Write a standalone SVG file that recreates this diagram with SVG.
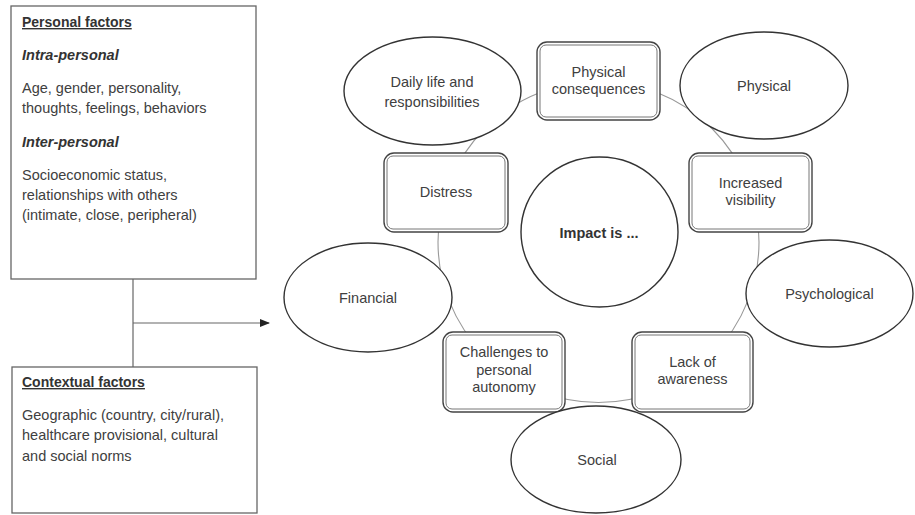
<svg xmlns="http://www.w3.org/2000/svg" width="915" height="515" viewBox="0 0 915 515">
<defs>
<style>
text{font-family:"Liberation Sans",Arial,sans-serif;font-size:14.5px;fill:#404040}
.c{text-anchor:middle}
.h{font-weight:bold;font-size:14px;fill:#333;text-decoration:underline}
.i{font-weight:bold;font-style:italic;fill:#333}
.b{font-weight:bold;fill:#333}
.box{fill:#fff;stroke:#666;stroke-width:1.3}
.ell{fill:#fff;stroke:#333;stroke-width:1.4}
.ro{fill:#fff;stroke:#444;stroke-width:1.4}
.ri{fill:none;stroke:#777;stroke-width:1}
.ln{fill:none;stroke:#666;stroke-width:1.2}
.ring{fill:none;stroke:#999;stroke-width:1.1}
</style>
<marker id="ah" markerWidth="10" markerHeight="10" refX="9" refY="5" orient="auto" markerUnits="userSpaceOnUse">
<path d="M0,1 L10,5 L0,9 Z" fill="#222"/>
</marker>
</defs>
<g id="connectors">
<line class="ln" x1="133" y1="279" x2="133" y2="367"/>
<line class="ln" x1="133" y1="323" x2="269" y2="323" marker-end="url(#ah)"/>
<circle class="ring" cx="598.5" cy="242" r="160.5"/>
</g>
<g id="personal">
<rect class="box" x="11" y="6" width="245" height="273"/>
<text class="h" x="22" y="27">Personal factors</text>
<text class="i" x="22" y="60">Intra-personal</text>
<text x="22" y="93">Age, gender, personality,</text>
<text x="22" y="113">thoughts, feelings, behaviors</text>
<text class="i" x="22" y="147">Inter-personal</text>
<text x="22" y="180">Socioeconomic status,</text>
<text x="22" y="200">relationships with others</text>
<text x="22" y="220">(intimate, close, peripheral)</text>
</g>
<g id="contextual">
<rect class="box" x="12" y="367" width="245" height="146"/>
<text class="h" x="22" y="387">Contextual factors</text>
<text x="22" y="420">Geographic (country, city/rural),</text>
<text x="22" y="440">healthcare provisional, cultural</text>
<text x="22" y="461">and social norms</text>
</g>
<g id="impact">
<ellipse class="ell" cx="599.5" cy="232" rx="78.5" ry="75"/>
<text class="c b" x="599" y="238">Impact is ...</text>
</g>
<g id="daily">
<ellipse class="ell" cx="432.5" cy="91" rx="88.5" ry="54"/>
<text class="c" x="432" y="87">Daily life and</text>
<text class="c" x="432" y="107">responsibilities</text>
</g>
<g id="physical-consequences">
<rect class="ro" x="537" y="42" width="123" height="78" rx="10"/>
<rect class="ri" x="540" y="45" width="117" height="72" rx="6"/>
<text class="c" x="598.5" y="77">Physical</text>
<text class="c" x="598.5" y="94">consequences</text>
</g>
<g id="physical">
<ellipse class="ell" cx="764" cy="85.5" rx="84" ry="53.5"/>
<text class="c" x="764" y="91">Physical</text>
</g>
<g id="distress">
<rect class="ro" x="384" y="153" width="124" height="79" rx="10"/>
<rect class="ri" x="387" y="156" width="118" height="73" rx="6"/>
<text class="c" x="446" y="197">Distress</text>
</g>
<g id="increased-visibility">
<rect class="ro" x="689" y="153" width="123" height="79" rx="10"/>
<rect class="ri" x="692" y="156" width="117" height="73" rx="6"/>
<text class="c" x="750.5" y="188">Increased</text>
<text class="c" x="750.5" y="205">visibility</text>
</g>
<g id="financial">
<ellipse class="ell" cx="368" cy="297.5" rx="84" ry="54.5"/>
<text class="c" x="368" y="303">Financial</text>
</g>
<g id="psychological">
<ellipse class="ell" cx="829.5" cy="293.5" rx="83.5" ry="53.5"/>
<text class="c" x="829.5" y="299">Psychological</text>
</g>
<g id="challenges">
<rect class="ro" x="443" y="332" width="122" height="80" rx="10"/>
<rect class="ri" x="446" y="335" width="116" height="74" rx="6"/>
<text class="c" x="504" y="357">Challenges to</text>
<text class="c" x="504" y="375">personal</text>
<text class="c" x="504" y="392">autonomy</text>
</g>
<g id="lack-of-awareness">
<rect class="ro" x="632" y="332" width="121" height="80" rx="10"/>
<rect class="ri" x="635" y="335" width="115" height="74" rx="6"/>
<text class="c" x="692.5" y="367">Lack of</text>
<text class="c" x="692.5" y="384">awareness</text>
</g>
<g id="social">
<ellipse class="ell" cx="596" cy="459.5" rx="85" ry="53.5"/>
<text class="c" x="597" y="465">Social</text>
</g>
</svg>
